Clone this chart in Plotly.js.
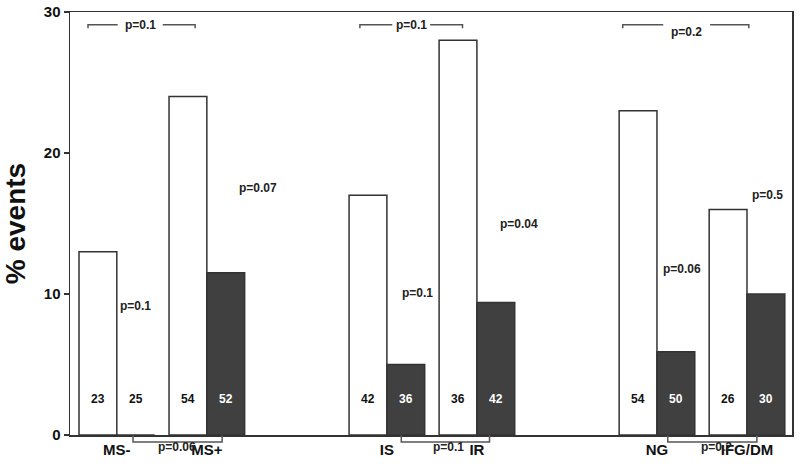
<!DOCTYPE html>
<html>
<head>
<meta charset="utf-8">
<script src="https://cdn.plot.ly/plotly-3.0.1.min.js"></script>
<style>
  html, body { margin: 0; padding: 0; background: #fff; }
  #chart { width: 800px; height: 470px; }
</style>
</head>
<body>
<div id="chart"></div>
<script>
// subgroups and where they sit on the x axis (three pairs, gap between pairs)
const groups = ['MS-', 'MS+', 'IS', 'IR', 'NG', 'IFG/DM'];
const groupPos = [0, 1, 3, 4, 6, 7];

// % events: open bars and filled bars
const openVals = [13, 24, 17, 28, 23, 16];
const filledVals = [0, 11.5, 5, 9.4, 5.9, 10];

// patient counts printed at the foot of each bar
const openN = [23, 54, 42, 36, 54, 26];
const filledN = [25, 52, 36, 42, 50, 30];

// open vs filled p-values inside each subgroup
const pairP = ['p=0.1', 'p=0.07', 'p=0.1', 'p=0.04', 'p=0.06', 'p=0.5'];
const pairPx = [0.21, 1.57, 3.34, 4.47, 6.28, 7.23];
const pairPy = [9.15, 17.5, 10.1, 15.0, 11.8, 17.0];

// brackets across open bars (top of plot)
const topP = ['p=0.1', 'p=0.1', 'p=0.2'];
const topX0 = [-0.32, 2.7, 5.62];
const topX1 = [0.87, 3.84, 7.02];
const topGap0 = [0.01, 3.06, 6.07];
const topGap1 = [0.51, 3.48, 6.59];
const topTextY = [29.1, 29.1, 28.6];

// brackets across filled bars (under the axis)
const bottomP = ['p=0.06', 'p=0.1', 'p=0.2'];
const bottomX0 = [0.18, 3.16, 6.12];
const bottomX1 = [1.17, 4.14, 7.11];
const bottomTextX = [0.67, 3.68, 6.66];

const barW = 0.42;
const countY = 2.55;
const fontFam = 'Liberation Sans, Arial, sans-serif';
const edge = '#333333';

const traces = [
    {
        type: 'bar',
        x: groupPos,
        y: openVals,
        width: barW,
        offset: -barW,
        marker: { color: '#ffffff', line: { color: edge, width: 1.5 } },
        hoverinfo: 'skip'
    },
    {
        type: 'bar',
        x: groupPos,
        y: filledVals,
        width: barW,
        offset: 0,
        marker: { color: '#404040', line: { color: edge, width: 1.5 } },
        hoverinfo: 'skip'
    }
];

const annotations = [];
const txt = (color) => ({ family: fontFam, size: 12, color: color, weight: 'bold' });

// counts
groupPos.forEach((p, i) => {
    annotations.push({
        x: p - barW / 2, y: countY, xref: 'x', yref: 'y',
        text: String(openN[i]), showarrow: false, font: txt('#111')
    });
    annotations.push({
        x: p + barW / 2, y: countY, xref: 'x', yref: 'y',
        text: String(filledN[i]), showarrow: false,
        font: txt(filledVals[i] > countY ? '#ffffff' : '#111')
    });
});

// pairwise p-values
pairP.forEach((t, i) => {
    annotations.push({
        x: pairPx[i], y: pairPy[i], xref: 'x', yref: 'y',
        text: t, showarrow: false, font: txt('#222')
    });
});

const shapes = [];
const lineStyle = { color: '#555555', width: 1.5 };

topP.forEach((t, i) => {
    const yl = 29.1, yt = 28.85;
    shapes.push({
        type: 'path', xref: 'x', yref: 'y', line: lineStyle,
        path: `M ${topX0[i]},${yt} L ${topX0[i]},${yl} L ${topGap0[i]},${yl} ` +
              `M ${topGap1[i]},${yl} L ${topX1[i]},${yl} L ${topX1[i]},${yt}`
    });
    annotations.push({
        x: (topGap0[i] + topGap1[i]) / 2, y: topTextY[i], xref: 'x', yref: 'y',
        text: t, showarrow: false, font: txt('#222')
    });
});

bottomP.forEach((t, i) => {
    const yb = -0.0165;
    shapes.push({
        type: 'path', xref: 'x', yref: 'paper', line: lineStyle,
        path: `M ${bottomX0[i]},0 L ${bottomX0[i]},${yb} L ${bottomX1[i]},${yb} L ${bottomX1[i]},0`
    });
    annotations.push({
        x: bottomTextX[i], y: -0.028, xref: 'x', yref: 'paper',
        xanchor: 'center', yanchor: 'middle',
        text: t, showarrow: false, font: txt('#222')
    });
});

const layout = {
    width: 800,
    height: 470,
    margin: { l: 70, r: 8, t: 12, b: 35 },
    paper_bgcolor: '#ffffff',
    plot_bgcolor: '#ffffff',
    barmode: 'overlay',
    showlegend: false,
    font: { family: fontFam, color: '#111' },
    xaxis: {
        range: [-0.52, 7.5],
        tickvals: groupPos,
        ticktext: groups,
        ticks: '',
        tickfont: { family: fontFam, size: 15, color: '#111', weight: 'bold' },
        showgrid: false,
        zeroline: false,
        showline: true,
        linecolor: edge,
        linewidth: 1.5,
        mirror: true
    },
    yaxis: {
        range: [0, 30],
        tickvals: [0, 10, 20, 30],
        ticks: 'outside',
        ticklen: 5,
        tickwidth: 1.5,
        tickcolor: edge,
        tickfont: { family: fontFam, size: 15, color: '#111', weight: 'bold' },
        title: {
            text: '% events',
            font: { family: fontFam, size: 28, color: '#111', weight: 'bold' },
            standoff: 14
        },
        showgrid: false,
        zeroline: false,
        showline: true,
        linecolor: edge,
        linewidth: 1.5,
        mirror: true
    },
    annotations: annotations,
    shapes: shapes
};

Plotly.newPlot('chart', traces, layout, { displayModeBar: false, staticPlot: true });
</script>
</body>
</html>
